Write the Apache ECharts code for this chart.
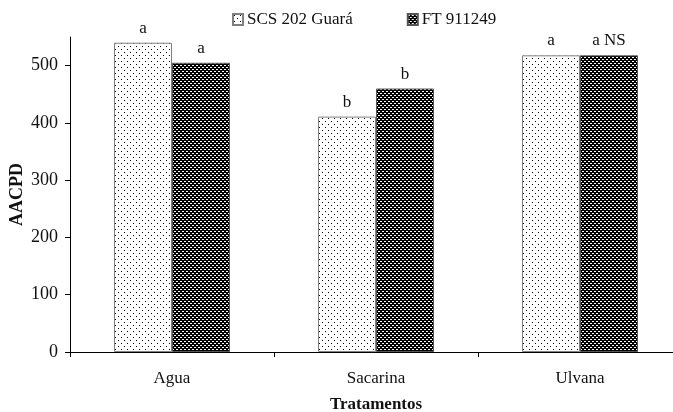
<!DOCTYPE html>
<html>
<head>
<meta charset="utf-8">
<script src="https://cdn.jsdelivr.net/npm/echarts@6/dist/echarts.min.js"></script>
<style>
html,body{margin:0;padding:0;background:#fff;overflow:hidden;}
#c{width:673px;height:412px;}
</style>
</head>
<body>
<div id="c"></div>
<script>
var categories = ['Agua', 'Sacarina', 'Ulvana'];
var seriesNames = ['SCS 202 Guará', 'FT 911249'];
var scsValues = [540, 411, 518];
var ftValues = [505, 460, 518];
var scsLetters = ['a', 'b', 'a'];
var ftLetters = ['a', 'b', 'a NS'];
var yTicks = [0, 100, 200, 300, 400, 500];

function dotPattern() {
  var c = document.createElement('canvas');
  c.width = 6; c.height = 6;
  var g = c.getContext('2d');
  g.fillStyle = '#ffffff'; g.fillRect(0, 0, 6, 6);
  g.fillStyle = '#000000';
  g.fillRect(1, 1, 1, 1);
  g.fillRect(4, 4, 1, 1);
  return c;
}
function darkPattern() {
  var c = document.createElement('canvas');
  c.width = 4; c.height = 4;
  var g = c.getContext('2d');
  g.fillStyle = '#000000'; g.fillRect(0, 0, 4, 4);
  g.fillStyle = '#ffffff';
  g.fillRect(0, 1, 2, 1);
  g.fillRect(2, 3, 2, 1);
  return c;
}
function buildData(values, letters) {
  return values.map(function (v, i) {
    return {value: v, label: {formatter: letters[i]}};
  });
}
var fontFam = 'Liberation Serif';
var chart = echarts.init(document.getElementById('c'), null, {renderer: 'canvas'});
chart.setOption({
  animation: false,
  textStyle: {fontFamily: fontFam},
  legend: {
    top: 6,
    left: 227,
    itemWidth: 10,
    itemHeight: 11,
    itemGap: 54,
    icon: 'rect',
    textStyle: {fontFamily: fontFam, fontSize: 17, color: '#111', padding: [0, 0, 0, -1]},
    data: seriesNames
  },
  grid: {left: 70, right: -9, top: 37, bottom: 60, containLabel: false, outerBoundsMode: 'none'},
  xAxis: {
    type: 'category',
    data: categories,
    name: 'Tratamentos',
    nameLocation: 'middle',
    nameGap: 44,
    nameMoveOverlap: false,
    nameTextStyle: {fontFamily: fontFam, fontSize: 17, fontWeight: 'bold', color: '#111'},
    axisLine: {lineStyle: {color: '#000', width: 1}},
    axisTick: {show: true, length: 5, lineStyle: {color: '#000'}},
    axisLabel: {fontFamily: fontFam, fontSize: 17, color: '#111', margin: 18}
  },
  yAxis: {
    type: 'value',
    min: 0,
    max: 550,
    interval: 100,
    name: 'AACPD',
    nameLocation: 'middle',
    nameGap: 44,
    nameMoveOverlap: false,
    nameTextStyle: {fontFamily: fontFam, fontSize: 18, fontWeight: 'bold', color: '#111'},
    splitLine: {show: false},
    axisLine: {show: true, lineStyle: {color: '#000', width: 1}},
    axisTick: {show: true, length: 5, lineStyle: {color: '#000'}, customValues: yTicks},
    axisLabel: {fontFamily: fontFam, fontSize: 18, color: '#111', margin: 12, customValues: yTicks}
  },
  series: [
    {
      name: seriesNames[0],
      type: 'bar',
      data: buildData(scsValues, scsLetters),
      barWidth: 58,
      barGap: '0%',
      itemStyle: {color: {image: dotPattern(), repeat: 'repeat'}, borderColor: '#808080', borderWidth: 1},
      label: {show: true, position: 'top', distance: 6, fontFamily: fontFam, fontSize: 17, color: '#111'}
    },
    {
      name: seriesNames[1],
      type: 'bar',
      data: buildData(ftValues, ftLetters),
      barWidth: 58,
      itemStyle: {color: {image: darkPattern(), repeat: 'repeat'}, borderColor: '#555', borderWidth: 1},
      label: {show: true, position: 'top', distance: 6, fontFamily: fontFam, fontSize: 17, color: '#111'}
    }
  ]
});
</script>
</body>
</html>
